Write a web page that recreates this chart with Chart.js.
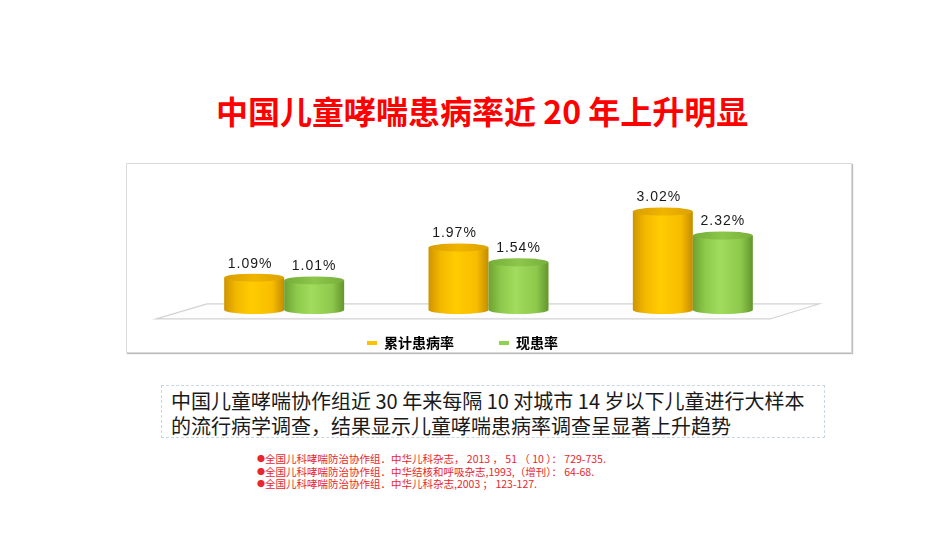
<!DOCTYPE html>
<html>
<head>
<meta charset="utf-8">
<script src="https://cdn.jsdelivr.net/npm/chart.js@4/dist/chart.umd.min.js"></script>
<style>
  body { margin: 0; background: #fff; font-family: "Noto Sans CJK SC", sans-serif; }
  #page { position: relative; width: 950px; height: 535px; overflow: hidden; }
  #title { position: absolute; left: 216px; top: 92px; font-size: 32px; line-height: 36px; font-weight: bold; color: #ff0000; white-space: nowrap; }
  #box { position: absolute; left: 126px; top: 163px; width: 724px; height: 188px; border: 1px solid #dadada; box-shadow: 1px 1px 1px #bdbdbd; }
  #box canvas { position: absolute; left: 0; top: 0; }
  #note { position: absolute; left: 161px; top: 385px; width: 653px; height: 49px; padding: 2px 0 0 9px; border: 1px dashed #c8d8e0; font-size: 20px; line-height: 25px; color: #1a1a1a; white-space: nowrap; }
  #refs { position: absolute; left: 257px; top: 453px; font-size: 10.5px; line-height: 12.5px; color: #e8262c; white-space: nowrap; }
  #refs b { font-weight: normal; font-size: 8px; vertical-align: 1px; }
</style>
</head>
<body>
<div id="page">
  <div id="title">中国儿童哮喘患病率近 20 年上升明显</div>
  <div id="box"><canvas id="chart" width="724" height="188"></canvas></div>
  <div id="note">中国儿童哮喘协作组近 30 年来每隔 10 对城市 14 岁以下儿童进行大样本<br>的流行病学调查，结果显示儿童哮喘患病率调查呈显著上升趋势</div>
  <div id="refs"><b>●</b>全国儿科哮喘防治协作组．中华儿科杂志， 2013 ， 51 （ 10 ）： 729-735.<br><b>●</b>全国儿科哮喘防治协作组．中华结核和呼吸杂志,1993,（增刊）： 64-68.<br><b>●</b>全国儿科哮喘防治协作组．中华儿科杂志,2003 ； 123-127.</div>
</div>
<script>
const surveys = ['1990', '2000', '2010'];
const seriesNames = ['累计患病率', '现患率'];
const cumulativeRate = [1.09, 1.97, 3.02];
const currentRate = [1.01, 1.54, 2.32];

const legendColors = ['#ffc000', '#92d050'];
const cylinderColors = [
    { side: ['#cf9400', '#f2b800', '#ffcc00', '#f7bd00', '#c48c00'], top: ['#d89e00', '#f0b400', '#dca200'] },
    { side: ['#6da232', '#8cc84a', '#a0dc5e', '#8ec84c', '#63962c'], top: ['#74ae38', '#8cc64a', '#78b03a'] }
];

function drawCylinder(ctx, x, top, bottom, w, c) {
    const rx = w / 2, ry = 4;
    const left = x - rx, right = x + rx;
    const g = ctx.createLinearGradient(left, 0, right, 0);
    [0, 0.2, 0.45, 0.8, 1].forEach((s, i) => g.addColorStop(s, c.side[i]));
    ctx.fillStyle = g;
    ctx.beginPath();
    ctx.moveTo(left, top);
    ctx.lineTo(left, bottom);
    ctx.ellipse(x, bottom, rx, ry, 0, Math.PI, 0, true);
    ctx.lineTo(right, top);
    ctx.closePath();
    ctx.fill();
    const t = ctx.createLinearGradient(left, 0, right, 0);
    t.addColorStop(0, c.top[0]);
    t.addColorStop(0.5, c.top[1]);
    t.addColorStop(1, c.top[2]);
    ctx.fillStyle = t;
    ctx.beginPath();
    ctx.ellipse(x, top, rx, ry, 0, 0, Math.PI * 2);
    ctx.fill();
}

const floorPlugin = {
    id: 'floor',
    beforeDatasetsDraw(chart) {
        const ctx = chart.ctx, a = chart.chartArea;
        const zero = chart.scales.y.getPixelForValue(0);
        ctx.save();
        ctx.beginPath();
        ctx.moveTo(a.left - 26, zero + 4);
        ctx.lineTo(a.right - 25, zero + 4);
        ctx.lineTo(a.right + 24, zero - 11);
        ctx.lineTo(a.left + 25, zero - 11);
        ctx.closePath();
        ctx.fillStyle = '#fdfdfd';
        ctx.fill();
        ctx.strokeStyle = '#d2d2d2';
        ctx.lineWidth = 1.2;
        ctx.stroke();
        ctx.restore();
    }
};

const cylinderPlugin = {
    id: 'cylinders',
    afterDatasetsDraw(chart) {
        const ctx = chart.ctx;
        ctx.save();
        chart.data.datasets.forEach((ds, di) => {
            chart.getDatasetMeta(di).data.forEach(el => {
                drawCylinder(ctx, el.x, el.y, el.base - 5, el.width, cylinderColors[di]);
            });
        });
        ctx.font = '14px "Liberation Sans", Arial, sans-serif';
        ctx.letterSpacing = '1px';
        ctx.fillStyle = '#1a1a1a';
        ctx.textAlign = 'center';
        ctx.textBaseline = 'middle';
        chart.data.datasets.forEach((ds, di) => {
            chart.getDatasetMeta(di).data.forEach((el, i) => {
                ctx.fillText(ds.data[i].toFixed(2) + '%', el.x + (di === 0 ? -4 : 0), el.y - 14);
            });
        });
        ctx.restore();
    }
};

// legend sits close under the floor but keeps a wide gap between the two items
const legendFitPlugin = {
    id: 'legendFit',
    beforeInit(chart) {
        const fit = chart.legend.fit;
        chart.legend.fit = function() {
            fit.call(this);
            this.height = 61;
            this.lineWidths[0] += 52;
        };
    }
};

new Chart(document.getElementById('chart'), {
    type: 'bar',
    data: {
        labels: surveys,
        datasets: [
            { label: seriesNames[0], data: cumulativeRate, backgroundColor: 'transparent', borderWidth: 0, barThickness: 60, clip: false },
            { label: seriesNames[1], data: currentRate, backgroundColor: 'transparent', borderWidth: 0, barThickness: 60, clip: false }
        ]
    },
    options: {
        responsive: false,
        animation: false,
        layout: { padding: { left: 55, right: 56, top: 14, bottom: 0 } },
        scales: {
            x: { display: false },
            y: { display: false, min: 0.7, max: 4.0 }
        },
        plugins: {
            tooltip: { enabled: false },
            legend: {
                position: 'bottom',
                labels: {
                    boxWidth: 10,
                    boxHeight: 4,
                    padding: 45,
                    color: '#000',
                    font: { family: '"Noto Sans CJK SC"', size: 14, weight: 'bold' },
                    generateLabels(chart) {
                        const items = Chart.defaults.plugins.legend.labels.generateLabels(chart);
                        items.forEach((it, i) => { it.fillStyle = legendColors[i]; it.strokeStyle = legendColors[i]; it.lineWidth = 0; });
                        return items;
                    }
                }
            }
        }
    },
    plugins: [floorPlugin, cylinderPlugin, legendFitPlugin]
});
</script>
</body>
</html>
